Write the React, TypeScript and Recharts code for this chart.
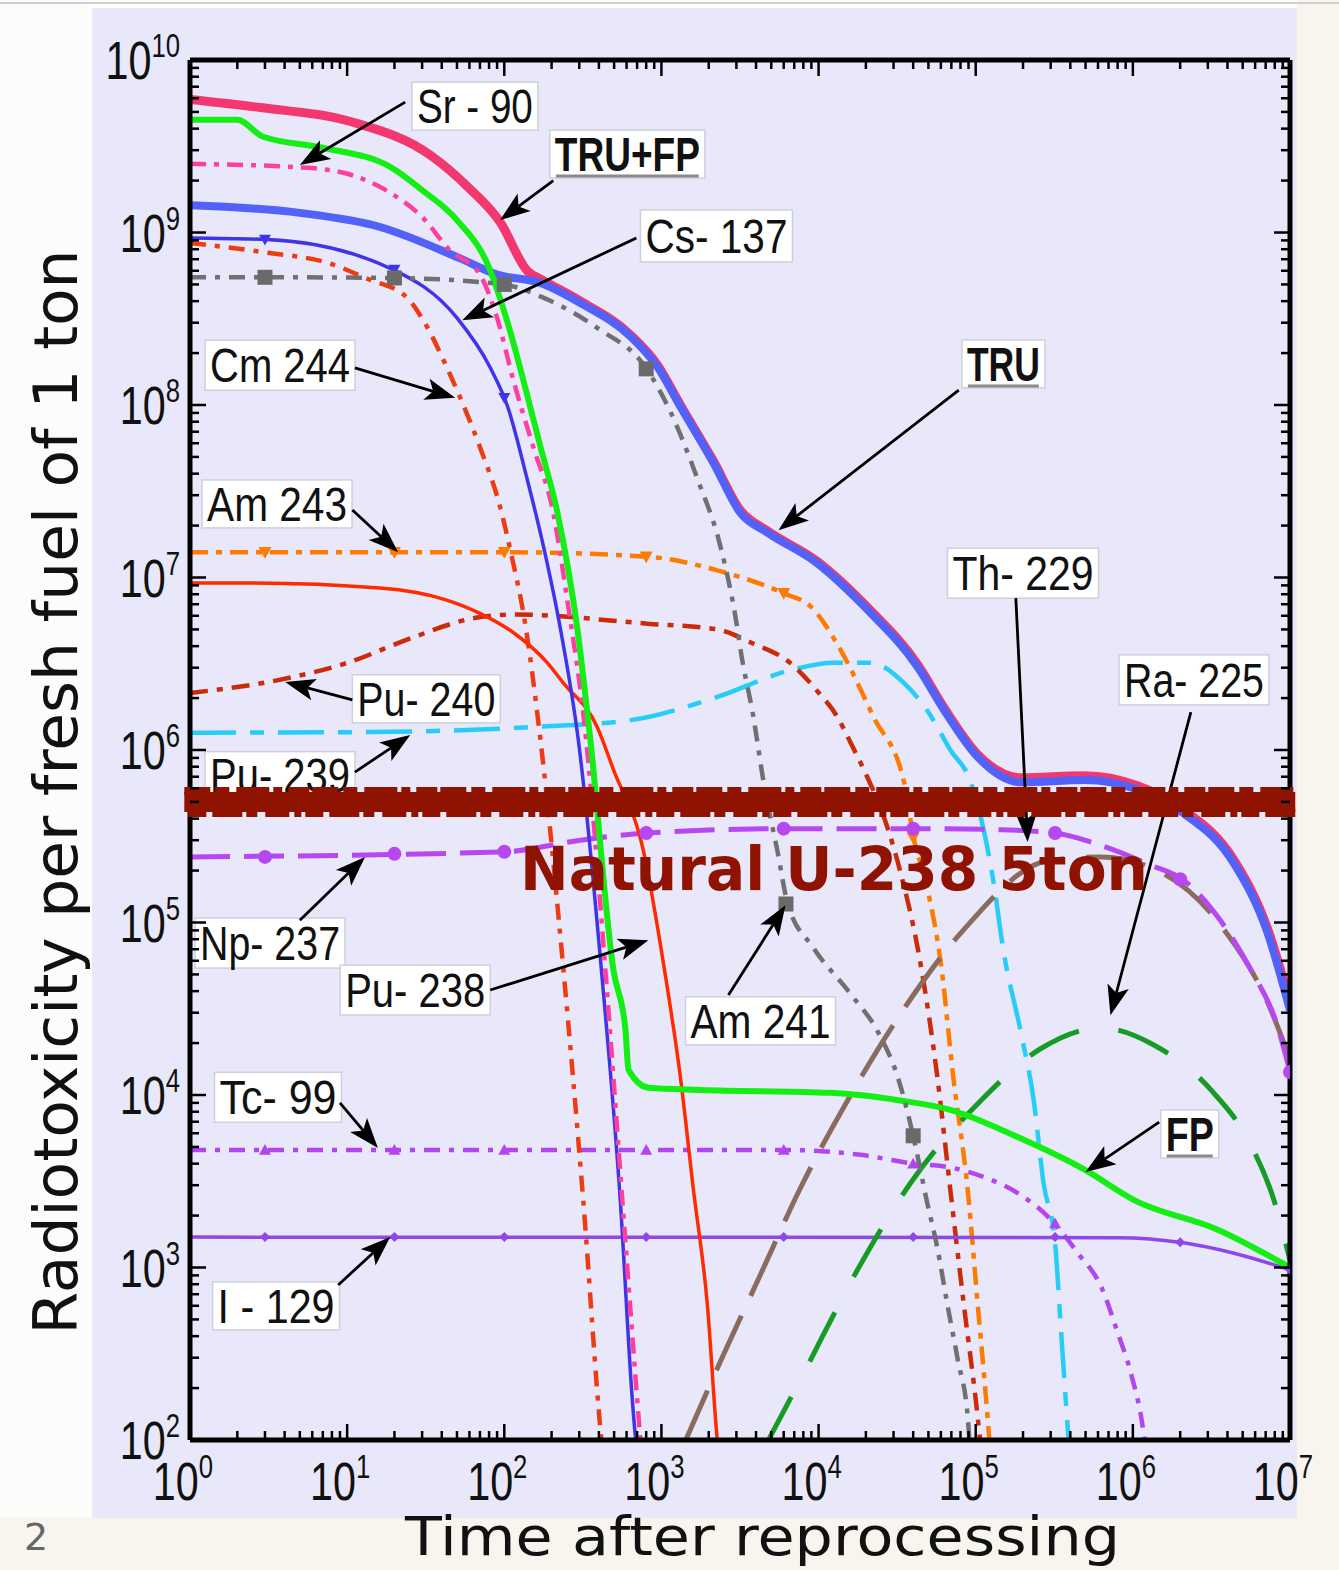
import React from 'react';
import { ComposedChart, Line, Scatter, XAxis, YAxis, ReferenceLine, ReferenceDot } from 'recharts';

type Pair = [number, number];

// ---------- series values: [time after reprocessing (years), radiotoxicity] ----------
const truFp: Pair[] = [[1,5.9e9],[2.8,5.3e9],[10.5,4.4e9],[34,2.8e9],[60,1.8e9],[94,1.15e9],[140,6.0e8],[175,5.3e8],[305,4.0e8],[635,2.55e8],[945,1.7e8],[1320,1.0e8],[2150,4.7e7],[3180,2.45e7],[4730,1.86e7],[9800,1.24e7],[2.05e4,6.7e6],[4.3e4,3.1e6],[6.3e4,1.75e6],[1.03e5,9.4e5],[1.94e5,6.9e5],[4.9e5,7.1e5],[1.07e6,6.2e5],[2.1e6,4.5e5],[4.4e6,2.3e5],[7.2e6,9.2e4],[1e7,3.4e4]];
const tru: Pair[] = [[1,1.44e9],[5,1.3e9],[16,1.08e9],[52,7.1e8],[90,5.7e8],[170,5.1e8],[305,3.9e8],[635,2.5e8],[945,1.66e8],[1320,9.8e7],[2150,4.6e7],[3180,2.37e7],[4730,1.82e7],[9800,1.21e7],[2.05e4,6.5e6],[4.3e4,3.0e6],[6.3e4,1.7e6],[1.03e5,9.1e5],[1.94e5,6.5e5],[4.9e5,6.7e5],[1.07e6,5.9e5],[2.1e6,4.3e5],[4.4e6,2.2e5],[7.2e6,8.7e4],[1e7,3.1e4]];
const fp: Pair[] = [[1,4.5e9],[2,4.5e9],[2.9,3.6e9],[7,3.1e9],[18.8,2.4e9],[30,1.76e9],[50,1.18e9],[81,6.1e8],[105,3.0e8],[132,1.4e8],[170,5.7e7],[218,2.37e7],[292,5.0e6],[353,1.14e6],[495,5.3e4],[590,2.4e4],[617,1.4e4],[830,1.1e4],[1780,1.07e4],[1.2e4,1.03e4],[3.3e4,9.3e3],[6.9e4,8.2e3],[1.85e5,5.7e3],[4.9e5,3.7e3],[1.02e6,2.46e3],[3.5e6,1.65e3],[1e7,1.0e3]];
const sr90: Pair[] = [[1,2.5e9],[5.6,2.37e9],[11.6,2.1e9],[18.8,1.7e9],[30,1.23e9],[45,7.9e8],[70,5.7e8],[90,3.2e8],[114,1.4e8],[153,5.7e7],[205,2.37e7],[250,7.7e6],[332,1.14e6],[440,5.3e4],[565,2.4e3],[735,100],[770,60]];
const cs137: Pair[] = [[1,9.3e8],[3.1,9.1e8],[18.8,6.2e8],[50,3.2e8],[81,1.66e8],[105,9.8e7],[140,3.7e7],[178,1.5e7],[228,5.0e6],[296,1.14e6],[415,5.3e4],[548,2.4e3],[653,170],[710,70]];
const cm244: Pair[] = [[1,8.7e8],[2.9,7.7e8],[7.8,6.6e8],[13.4,5.4e8],[24,4.2e8],[30.5,3.1e8],[43,1.66e8],[52.5,1.1e8],[70,5.7e7],[94,2.57e7],[114,1.21e7],[132,6.3e6],[170,1.14e6],[238,5.3e4],[318,2.45e3],[415,100],[440,60]];
const am241: Pair[] = [[1,5.5e8],[2.9,5.5e8],[19.6,5.45e8],[98,5.0e8],[187,4.1e8],[390,2.8e8],[812,1.6e8],[1150,9.0e7],[1700,3.7e7],[2380,1.5e7],[3050,5.0e6],[3190,3.8e6],[3850,1.55e6],[4470,6.5e5],[5470,2.6e5],[6340,1.3e5],[9300,7.1e4],[1.6e4,3.85e4],[2.4e4,2.3e4],[3.2e4,1.26e4],[4.0e4,5.8e3],[4.9e4,2.4e3],[5.7e4,1.3e3],[6.6e4,610],[7.7e4,290],[8.9e4,135],[9.3e4,75]];
const am243: Pair[] = [[1,1.4e7],[105,1.4e7],[815,1.32e7],[2270,1.1e7],[6000,8.1e6],[8900,6.8e6],[1.38e4,3.8e6],[2.24e4,1.55e6],[3.5e4,6.5e5],[4.0e4,3.2e5],[4.9e4,1.6e5],[6e4,5.8e4],[7.2e4,1.27e4],[8.9e4,2.8e3],[1.03e5,610],[1.19e5,135],[1.25e5,75]];
const pu240: Pair[] = [[1,2.14e6],[3.7,2.55e6],[10,3.2e6],[26.3,4.5e6],[63,5.8e6],[114,6.1e6],[815,5.4e6],[2270,5.0e6],[3700,4.2e6],[6600,3.2e6],[9800,2.2e6],[1.32e4,1.55e6],[1.6e4,1.1e6],[1.94e4,7.7e5],[2.6e4,4.1e5],[3.3e4,2.0e5],[4.45e4,5.8e4],[5.7e4,1.27e4],[6.9e4,2.8e3],[8.4e4,610],[1.03e5,135],[1.1e5,75]];
const pu239: Pair[] = [[1,1.26e6],[13.4,1.27e6],[153,1.36e6],[634,1.49e6],[2270,2.03e6],[6600,2.9e6],[1.25e4,3.2e6],[2.14e4,3.2e6],[3.5e4,2.44e6],[4.9e4,1.7e6],[6.9e4,1.0e6],[9.3e4,6.5e5],[1.3e5,1.7e5],[1.5e5,6.9e4],[1.94e5,2.3e4],[2.34e5,9.3e3],[2.7e5,3.1e3],[3.2e5,1.38e3],[3.5e5,415],[3.86e5,114],[4e5,75]];
const pu238: Pair[] = [[1,9.3e6],[2.3,9.3e6],[16.2,8.7e6],[43,7.4e6],[70,6.2e6],[114,4.8e6],[188,3.2e6],[238,2.44e6],[390,1.36e6],[495,7.7e5],[768,2.6e5],[1030,5.8e4],[1320,1.27e4],[1600,2.8e3],[1960,610],[2270,99],[2380,67]];
const np237: Pair[] = [[1,2.4e5],[100,2.57e5],[305,3.0e5],[800,3.3e5],[6200,3.5e5],[4e4,3.5e5],[1.44e5,3.45e5],[3.2e5,3.3e5],[6.25e5,2.8e5],[1.3e6,2.15e5],[2.1e6,1.76e5],[3.6e6,1.03e5],[5.65e6,5.3e4],[8.1e6,2.7e4],[1e7,1.36e4]];
const th229: Pair[] = [[1380,93],[2380,287],[4270,910],[7680,2.9e3],[1.53e4,9.3e3],[3.2e4,2.8e4],[8.4e4,9.1e4],[2.88e5,2.28e5],[6.25e5,2.4e5],[1.5e6,1.96e5],[3.6e6,9.7e4],[7.57e6,3.1e4],[1e7,1.6e4]];
const ra225: Pair[] = [[4600,93],[7680,225],[1.77e4,970],[3.86e4,3.1e3],[1.08e5,9.3e3],[2.6e5,1.86e4],[6.25e5,2.45e4],[1.36e6,1.95e4],[3.14e6,1.07e4],[5.65e6,5.1e3],[7.9e6,2.46e3],[1e7,1.1e3]];
const tc99: Pair[] = [[1,4.8e3],[6200,4.8e3],[1.85e4,4.5e3],[4e4,4.0e3],[6.9e4,3.8e3],[1.12e5,3.35e3],[1.85e5,2.7e3],[3e5,1.9e3],[4.5e5,1.2e3],[6.3e5,770],[8e5,420],[9.7e5,245],[1.17e6,110],[1.23e6,76]];
const i129: Pair[] = [[1,1.5e3],[8e5,1.49e3],[2.1e6,1.39e3],[4.4e6,1.21e3],[1e7,970]];

// marker values
const cs137Marks: Pair[] = [[3,9.1e8],[20,6.1e8],[100,1.1e8]];
const am241Marks: Pair[] = [[3,5.5e8],[20,5.45e8],[100,5.0e8],[800,1.62e8],[6200,1.28e5],[4e4,5.8e3]];
const am243Marks: Pair[] = [[3,1.4e7],[20,1.4e7],[100,1.4e7],[800,1.32e7],[6000,8.1e6],[4e4,3.1e5]];
const tc99Marks: Pair[] = [[3,4.8e3],[20,4.8e3],[100,4.8e3],[800,4.8e3],[6000,4.8e3],[4e4,4.0e3],[3.2e5,1.8e3]];
const np237Marks: Pair[] = [[3,2.4e5],[20,2.5e5],[100,2.57e5],[800,3.3e5],[6000,3.5e5],[4e4,3.5e5],[3.2e5,3.3e5],[2e6,1.78e5],[1e7,1.36e4]];
const i129Marks: Pair[] = [[3,1.5e3],[20,1.5e3],[100,1.5e3],[800,1.5e3],[6000,1.5e3],[4e4,1.5e3],[3.2e5,1.5e3],[2e6,1.4e3],[1e7,970]];

// natural uranium reference level (5 t)
const naturalU5t = 5e5;

// tick definitions
const xDecades = [0, 1, 2, 3, 4, 5, 6, 7];
const yDecades = [2, 3, 4, 5, 6, 7, 8, 9, 10];
const minorSteps = [2, 3, 4, 5, 6, 7, 8, 9];

const buildTicks = (decs: number[]) => {
  const out: number[] = [];
  decs.forEach((d, i) => {
    out.push(Math.pow(10, d));
    if (i < decs.length - 1) minorSteps.forEach((m) => out.push(m * Math.pow(10, d)));
  });
  return out;
};
const xTicks = buildTicks(xDecades);
const yTicks = buildTicks(yDecades);

const toPts = (arr: Pair[]) => arr.map(([t, v]) => ({ t, v }));

// ---------- styles ----------
const FONT = "'Liberation Sans', Arial, Helvetica, sans-serif";
const TITLE_FONT = "'DejaVu Sans', 'Noto Sans', sans-serif";
const BAND = '#8f1300';

type Series = { key: string; data: Pair[]; color: string; width: number; dash?: string };
const seriesList: Series[] = [
  { key: 'TRU+FP', data: truFp, color: '#f2386f', width: 9 },
  { key: 'TRU', data: tru, color: '#5262f8', width: 8 },
  { key: 'Pu-239', data: pu239, color: '#27cdf6', width: 4.5, dash: '46 14 14 14' },
  { key: 'Pu-240', data: pu240, color: '#cc2a08', width: 4.5, dash: '18 9 6 9' },
  { key: 'Am-243', data: am243, color: '#ff7a00', width: 4.5, dash: '18 8 6 8' },
  { key: 'Tc-99', data: tc99, color: '#b245ee', width: 4.5, dash: '16 9 5 9' },
  { key: 'I-129', data: i129, color: '#8c48ea', width: 3.5 },
  { key: 'Ra-225', data: ra225, color: '#169c24', width: 5, dash: '55 40' },
  { key: 'Th-229', data: th229, color: '#8a6b5d', width: 5, dash: '60 22' },
  { key: 'Np-237', data: np237, color: '#b747f0', width: 5, dash: '40 14' },
  { key: 'Cm-244', data: cm244, color: '#ee3b12', width: 4.5, dash: '16 9 5 9' },
  { key: 'Pu-238', data: pu238, color: '#ff2a00', width: 3.5 },
  { key: 'Cs-137', data: cs137, color: '#3f34e8', width: 3.5 },
  { key: 'Sr-90', data: sr90, color: '#ff3fa0', width: 4.5, dash: '16 8 5 8' },
  { key: 'FP', data: fp, color: '#14ee14', width: 6 },
  { key: 'Am-241', data: am241, color: '#707070', width: 4.5, dash: '16 9 5 9' },
];

type MarkSet = { key: string; data: Pair[]; color: string; kind: 'tri-down' | 'tri-up' | 'square' | 'circle' | 'diamond'; size: number };
const markSets: MarkSet[] = [
  { key: 'm-cs137', data: cs137Marks, color: '#3f34e8', kind: 'tri-down', size: 12 },
  { key: 'm-am241', data: am241Marks, color: '#6a6a6a', kind: 'square', size: 15 },
  { key: 'm-am243', data: am243Marks, color: '#ff7a00', kind: 'tri-down', size: 13 },
  { key: 'm-tc99', data: tc99Marks, color: '#b245ee', kind: 'tri-up', size: 12 },
  { key: 'm-np237', data: np237Marks, color: '#b747f0', kind: 'circle', size: 14 },
  { key: 'm-i129', data: i129Marks, color: '#8c48ea', kind: 'diamond', size: 10 },
];

const markShape = (kind: MarkSet['kind'], size: number, color: string) => (p: any) => {
  const { cx, cy } = p;
  const h = size / 2;
  if (kind === 'square') return <rect x={cx - h} y={cy - h} width={size} height={size} fill={color} />;
  if (kind === 'circle') return <circle cx={cx} cy={cy} r={h} fill={color} />;
  if (kind === 'diamond') return <polygon points={`${cx},${cy - h} ${cx + h},${cy} ${cx},${cy + h} ${cx - h},${cy}`} fill={color} />;
  if (kind === 'tri-up') return <polygon points={`${cx},${cy - h} ${cx + h},${cy + h * 0.8} ${cx - h},${cy + h * 0.8}`} fill={color} />;
  return <polygon points={`${cx - h},${cy - h * 0.8} ${cx + h},${cy - h * 0.8} ${cx},${cy + h}`} fill={color} />;
};

// ---------- callouts (data-anchored) ----------
type Callout = { text: string; at: Pair; w: number; h: number; bold?: boolean; from: Pair; to: Pair };
const callouts: Callout[] = [
  { text: 'Sr - 90', at: [65, 5.4e9], w: 126, h: 48, from: [23.4, 5.7e9], to: [5.0, 2.46e9] },
  { text: 'TRU+FP', at: [607, 2.85e9], w: 155, h: 48, bold: true, from: [205, 2.0e9], to: [94, 1.18e9] },
  { text: 'Cs- 137', at: [2240, 9.55e8], w: 152, h: 52, from: [693, 9.3e8], to: [54, 3.1e8] },
  { text: 'Cm 244', at: [3.74, 1.7e8], w: 150, h: 50, from: [11.2, 1.64e8], to: [48.7, 1.1e8] },
  { text: 'TRU', at: [1.5e5, 1.73e8], w: 83, h: 48, bold: true, from: [7.8e4, 1.22e8], to: [5560, 1.88e7] },
  { text: 'Am 243', at: [3.58, 2.67e7], w: 150, h: 48, from: [10.8, 2.46e7], to: [21.1, 1.4e7] },
  { text: 'Th- 229', at: [2.0e5, 1.06e7], w: 151, h: 50, from: [1.8e5, 7.6e6], to: [2.14e5, 2.93e5] },
  { text: 'Pu- 240', at: [31.9, 1.98e6], w: 148, h: 48, from: [10.8, 1.95e6], to: [4.03, 2.48e6] },
  { text: 'Ra- 225', at: [2.45e6, 2.55e6], w: 150, h: 50, from: [2.34e6, 1.66e6], to: [7.2e5, 2.9e4] },
  { text: 'Pu- 239', at: [3.74, 7.2e5], w: 150, h: 46, from: [11.2, 7.45e5], to: [25.2, 1.22e6] },
  { text: 'Np- 237', at: [3.23, 7.6e4], w: 150, h: 50, from: [5.0, 1.03e5], to: [13, 2.4e5] },
  { text: 'Pu- 238', at: [27.1, 4.06e4], w: 150, h: 50, from: [81.4, 4.06e4], to: [826, 7.9e4] },
  { text: 'Am 241', at: [4270, 2.69e4], w: 150, h: 48, from: [2670, 3.8e4], to: [6160, 1.26e5] },
  { text: 'Tc- 99', at: [3.63, 9.7e3], w: 127, h: 50, from: [9.0, 9.0e3], to: [15.7, 4.93e3] },
  { text: 'FP', at: [2.3e6, 5.94e3], w: 58, h: 48, bold: true, from: [1.47e6, 6.97e3], to: [5.0e5, 3.58e3] },
  { text: 'I - 129', at: [3.53, 599], w: 127, h: 48, from: [8.77, 792], to: [18.8, 1.5e3] },
];
const naturalLabelAt: Pair = [126, 1.54e5];

const boxShape = (c: Callout) => (p: any) => {
  const { cx, cy } = p;
  return (
    <g>
      <rect x={cx - c.w / 2} y={cy - c.h / 2} width={c.w} height={c.h} fill="#ffffff" stroke="#cfcfdc" strokeWidth={1.5} />
      <text x={cx} y={cy + 17} textAnchor="middle" fontSize={49} fontFamily={FONT} fontWeight={c.bold ? 700 : 400}
        fill="#111" textLength={c.w - 10} lengthAdjust="spacingAndGlyphs">{c.text}</text>
      {c.bold && <line x1={cx - c.w / 2 + 6} x2={cx + c.w / 2 - 6} y1={cy + 22} y2={cy + 22} stroke="#8a8a8a" strokeWidth={3} />}
    </g>
  );
};

const arrowShape = (p: any) => {
  const { x1, y1, x2, y2 } = p;
  const dx = x2 - x1, dy = y2 - y1;
  const L = Math.hypot(dx, dy) || 1;
  const ux = dx / L, uy = dy / L;
  const hl = 30, hw = 11;
  const bx = x2 - ux * hl, by = y2 - uy * hl;
  const nx = bx + ux * 7, ny = by + uy * 7;
  const pts = `${x2},${y2} ${bx - uy * hw},${by + ux * hw} ${nx},${ny} ${bx + uy * hw},${by - ux * hw}`;
  return (
    <g>
      <line x1={x1} y1={y1} x2={nx} y2={ny} stroke="#000" strokeWidth={2.8} />
      <polygon points={pts} fill="#000" />
    </g>
  );
};

const bandShape = (p: any) => {
  const { x1, y1, x2, y2 } = p;
  return (
    <g>
      <line x1={x1} y1={y1} x2={x2} y2={y2} stroke={BAND} strokeWidth={20} />
      <line x1={x1} y1={y1 - 11} x2={x2} y2={y2 - 11} stroke={BAND} strokeWidth={8} strokeDasharray="26 5 14 7 33 4 9 6 21 3" />
      <line x1={x1 + 4} y1={y1 + 11} x2={x2} y2={y2 + 11} stroke={BAND} strokeWidth={8} strokeDasharray="18 6 30 4 11 8 24 5 7 4" />
    </g>
  );
};

const naturalShape = (p: any) => (
  <text x={p.cx} y={p.cy} fontSize={60} fontWeight={700} fontFamily={TITLE_FONT} fill={BAND}
    textLength={628} lengthAdjust="spacingAndGlyphs">Natural U-238 5ton</text>
);

// ---------- ticks ----------
const isMajor = (v: number) => Math.abs(Math.log10(v) - Math.round(Math.log10(v))) < 1e-6;
const expOf = (v: number) => Math.round(Math.log10(v));
const MAJ = 16, MIN = 9;
const SX = 0.78; // condensed look of the original tick labels

const PowerLabel = ({ x, y, e, anchor }: { x: number; y: number; e: number; anchor: 'middle' | 'end' }) => (
  <g transform={`translate(${x},${y}) scale(${SX},1)`}>
    <text x={0} y={0} textAnchor={anchor} fontSize={53} fontFamily={FONT} fill="#111">
      10<tspan fontSize={33} dy={-22}>{String(e)}</tspan>
    </text>
  </g>
);

const BottomTick = (props: any) => {
  const { x, y, payload } = props;
  const v = payload.value;
  const major = isMajor(v);
  return (
    <g>
      <line x1={x} x2={x} y1={y} y2={y - (major ? MAJ : MIN)} stroke="#000" strokeWidth={2.5} />
      {major && <PowerLabel x={x - 7} y={y + 60} e={expOf(v)} anchor="middle" />}
    </g>
  );
};
const TopTick = (props: any) => {
  const { x, y, payload } = props;
  const major = isMajor(payload.value);
  return <line x1={x} x2={x} y1={y} y2={y + (major ? MAJ : MIN)} stroke="#000" strokeWidth={2.5} />;
};
const LeftTick = (props: any) => {
  const { x, y, payload } = props;
  const v = payload.value;
  const major = isMajor(v);
  return (
    <g>
      <line x1={x} x2={x + (major ? MAJ : MIN)} y1={y} y2={y} stroke="#000" strokeWidth={2.5} />
      {major && <PowerLabel x={x - 10} y={y + 19} e={expOf(v)} anchor="end" />}
    </g>
  );
};
const RightTick = (props: any) => {
  const { x, y, payload } = props;
  const major = isMajor(payload.value);
  return <line x1={x} x2={x - (major ? MAJ : MIN)} y1={y} y2={y} stroke="#000" strokeWidth={2.5} />;
};

const axisLine = { stroke: '#000', strokeWidth: 5 };

export default function App() {
  return (
    <div style={{ position: 'absolute', left: 0, top: 0, width: 1339, height: 1570, background: '#f7f5ee', overflow: 'hidden' }}>
      <div style={{ position: 'absolute', left: 0, top: 0, width: 1297, height: 8, background: '#fdfdfd' }} />
      <div style={{ position: 'absolute', left: 0, top: 0, width: 92, height: 1518, background: '#fcfcfb' }} />
      <div style={{ position: 'absolute', left: 92, top: 8, width: 1205, height: 1510, background: '#e8e8fa' }} />
      <div style={{ position: 'absolute', left: 0, top: 2, width: 1339, height: 2, background: '#cfcfcf' }} />
      <div style={{ position: 'absolute', left: 0, top: 0 }}>
        <ComposedChart width={1339} height={1570} margin={{ top: 50, right: 39, bottom: 50, left: 90 }}>
          <XAxis dataKey="t" type="number" scale="log" domain={[1, 1e7]} allowDataOverflow ticks={xTicks} interval={0}
            tickSize={0} tickMargin={0} tickLine={false} axisLine={axisLine} tick={BottomTick} height={80} />
          <XAxis xAxisId="top" orientation="top" dataKey="t" type="number" scale="log" domain={[1, 1e7]} allowDataOverflow ticks={xTicks}
            interval={0} tickSize={0} tickMargin={0} tickLine={false} axisLine={axisLine} tick={TopTick} height={10} />
          <YAxis dataKey="v" type="number" scale="log" domain={[100, 1e10]} allowDataOverflow ticks={yTicks} interval={0}
            tickSize={0} tickMargin={0} tickLine={false} axisLine={axisLine} tick={LeftTick} width={100} />
          <YAxis yAxisId="right" orientation="right" dataKey="v" type="number" scale="log" domain={[100, 1e10]} allowDataOverflow ticks={yTicks}
            interval={0} tickSize={0} tickMargin={0} tickLine={false} axisLine={axisLine} tick={RightTick} width={10} />

          {seriesList.map((s) => (
            <Line key={s.key} name={s.key} data={toPts(s.data)} dataKey="v" type="monotone" stroke={s.color} strokeWidth={s.width}
              strokeDasharray={s.dash} dot={false} activeDot={false} isAnimationActive={false} strokeLinejoin="round" />
          ))}
          {markSets.map((m) => (
            <Scatter key={m.key} name={m.key} data={toPts(m.data)} dataKey="v" fill={m.color} shape={markShape(m.kind, m.size, m.color)} isAnimationActive={false} />
          ))}

          {callouts.map((c) => (
            <ReferenceDot key={'box-' + c.text} x={c.at[0]} y={c.at[1]} r={1} ifOverflow="visible" shape={boxShape(c)} zIndex={1500} />
          ))}
          {callouts.map((c) => (
            <ReferenceLine key={'arr-' + c.text} segment={[{ x: c.from[0], y: c.from[1] }, { x: c.to[0], y: c.to[1] }]}
              ifOverflow="visible" shape={arrowShape} zIndex={1600} />
          ))}
          <ReferenceLine segment={[{ x: 0.92, y: naturalU5t }, { x: 1.08e7, y: naturalU5t }]} ifOverflow="visible" shape={bandShape} zIndex={1700} />
          <ReferenceDot x={naturalLabelAt[0]} y={naturalLabelAt[1]} r={1} ifOverflow="visible" shape={naturalShape} zIndex={1800} />
        </ComposedChart>
      </div>
      <svg width={1339} height={1570} style={{ position: 'absolute', left: 0, top: 0, pointerEvents: 'none' }}>
        <text transform="translate(77,792) rotate(-90)" textAnchor="middle" fontSize={60} fontFamily={TITLE_FONT} fill="#111"
          textLength={1085} lengthAdjust="spacingAndGlyphs">Radiotoxicity per fresh fuel of 1 ton</text>
        <text x={405} y={1555} fontSize={53} fontFamily={TITLE_FONT} fill="#111" textLength={715} lengthAdjust="spacingAndGlyphs">Time after reprocessing</text>
        <text x={24} y={1550} fontSize={38} fontFamily={TITLE_FONT} fill="#666">2</text>
      </svg>
    </div>
  );
}
